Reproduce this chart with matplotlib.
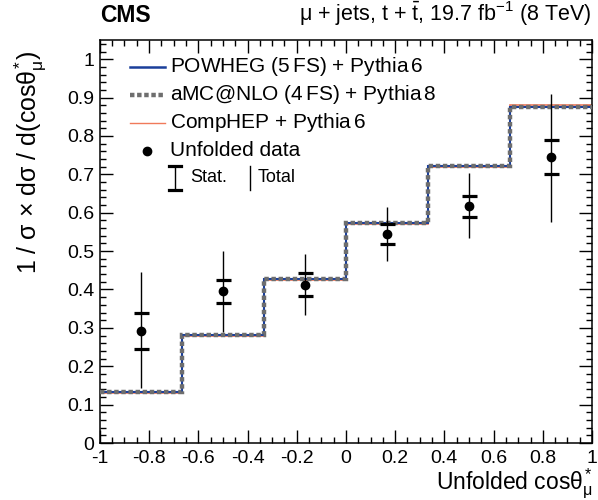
import matplotlib
matplotlib.use("Agg")
import matplotlib.pyplot as plt
import numpy as np
from matplotlib.ticker import MultipleLocator, FuncFormatter

plt.rcParams['font.family'] = ['Liberation Sans', 'DejaVu Sans']
plt.rcParams['mathtext.fontset'] = 'custom'
plt.rcParams['mathtext.rm'] = 'Liberation Sans'
plt.rcParams['mathtext.it'] = 'Liberation Sans'
plt.rcParams['mathtext.bf'] = 'Liberation Sans:bold'

# bin edges and predictions
edges = [-1, -2/3, -1/3, 0, 1/3, 2/3, 1]
powheg = [0.133, 0.281, 0.427, 0.572, 0.722, 0.876]
amcnlo = [0.133, 0.281, 0.427, 0.572, 0.722, 0.876]
comphep = [0.131, 0.279, 0.425, 0.570, 0.720, 0.881]

# unfolded data
x_data = [-0.833, -0.5, -0.167, 0.167, 0.5, 0.833]
y_data = [0.293, 0.395, 0.411, 0.545, 0.617, 0.745]
stat_up = [0.339, 0.424, 0.442, 0.571, 0.643, 0.790]
stat_dn = [0.246, 0.364, 0.382, 0.518, 0.590, 0.700]
tot_up = [0.446, 0.500, 0.492, 0.615, 0.703, 0.909]
tot_dn = [0.142, 0.290, 0.333, 0.475, 0.534, 0.576]

blue = '#1a3f9a'
grey = '#6e6e6e'
salmon = '#f07a5a'

fig = plt.figure(figsize=(5.98, 5.0), dpi=100)
ax = fig.add_axes([0.167, 0.114, 0.823, 0.806])

ax.stairs(comphep, edges, color=salmon, lw=1.2, baseline=None, zorder=2)
ax.stairs(powheg, edges, color=blue, lw=1.5, baseline=None, zorder=3)
ax.stairs(amcnlo, edges, color=grey, lw=3.2, linestyle=(0, (1.0, 0.6)), baseline=None, zorder=4)

y = np.array(y_data)
ax.errorbar(x_data, y, yerr=[y - np.array(tot_dn), np.array(tot_up) - y],
            fmt='none', ecolor='black', elinewidth=1.0, zorder=5)
ax.errorbar(x_data, y, yerr=[y - np.array(stat_dn), np.array(stat_up) - y],
            fmt='none', ecolor='black', elinewidth=0, capsize=5.4, capthick=2.3, zorder=5)
ax.plot(x_data, y, 'o', color='black', ms=6, zorder=6)

def fmt(v, pos):
    v = round(v, 6)
    return '%g' % (0 if v == 0 else v)

ax.set_xlim(-1, 1)
ax.set_ylim(0, 1.05)
ax.xaxis.set_major_locator(MultipleLocator(0.2))
ax.xaxis.set_minor_locator(MultipleLocator(0.05))
ax.yaxis.set_major_locator(MultipleLocator(0.1))
ax.yaxis.set_minor_locator(MultipleLocator(0.02))
ax.xaxis.set_major_formatter(FuncFormatter(fmt))
ax.yaxis.set_major_formatter(FuncFormatter(fmt))
ax.tick_params(which='both', direction='in', top=True, right=True, labelsize=14, width=1)
ax.tick_params(which='major', length=9.5)
ax.tick_params(which='minor', length=4.5)
ax.tick_params(axis='x', pad=5)
ax.tick_params(axis='y', pad=4)
for s in ax.spines.values():
    s.set_linewidth(1.1)

ax.set_xlabel(r'Unfolded cos$\theta^{*}_{\mu}$', fontsize=16.5, loc='right')
ax.xaxis.set_label_coords(1.0, -0.058)
ax.set_ylabel(r'1 / $\sigma$ $\times$ d$\sigma$ / d(cos$\theta^{*}_{\mu}$)', fontsize=18, loc='top')
ax.yaxis.set_label_coords(-0.105, 0.975)

fig.text(0.167, 0.945, 'CMS', fontsize=16.5, fontweight='bold', ha='left', va='bottom')
fig.text(0.99, 0.945, r'$\mu$ + jets, t + $\bar{\mathrm{t}}$, 19.7 fb$^{-1}$ (8 TeV)',
         fontsize=15.5, ha='right', va='bottom')

# legend drawn by hand
tr = ax.transAxes
def ax_x(px):
    return (px - 100) / 492
def ax_y(py):
    return (443 - py) / 403

rows = [67, 95, 123, 151]
ax.plot([ax_x(130), ax_x(165)], [ax_y(rows[0])] * 2, color=blue, lw=1.8, transform=tr)
ax.plot([ax_x(130), ax_x(165)], [ax_y(rows[1])] * 2, color=grey, lw=3.2,
        linestyle=(0, (1.0, 0.6)), transform=tr)
ax.plot([ax_x(130), ax_x(165)], [ax_y(rows[2])] * 2, color=salmon, lw=1.0, transform=tr)
ax.plot([ax_x(147)], [ax_y(rows[3])], 'o', color='black', ms=6, transform=tr)
labels = ['POWHEG (5$\\,$FS) + Pythia$\\,$6', 'aMC@NLO (4$\\,$FS) + Pythia$\\,$8',
          'CompHEP + Pythia$\\,$6', 'Unfolded data']
for r, lab in zip(rows, labels):
    ax.text(ax_x(170), ax_y(r), lab, fontsize=15, va='center', ha='left', transform=tr)

# stat / total key
yb, yt = ax_y(190), ax_y(166)
ax.plot([ax_x(175)] * 2, [yb, yt], color='black', lw=1.0, transform=tr)
ax.plot([ax_x(169), ax_x(181)], [yt, yt], color='black', lw=2.3, transform=tr)
ax.plot([ax_x(169), ax_x(181)], [yb, yb], color='black', lw=2.3, transform=tr)
ax.text(ax_x(190), ax_y(178), 'Stat.', fontsize=13, va='center', ha='left', transform=tr)
ax.plot([ax_x(250)] * 2, [yb, yt], color='black', lw=1.0, transform=tr)
ax.text(ax_x(258), ax_y(178), 'Total', fontsize=13, va='center', ha='left', transform=tr)

fig.savefig('out.png', dpi=100)
